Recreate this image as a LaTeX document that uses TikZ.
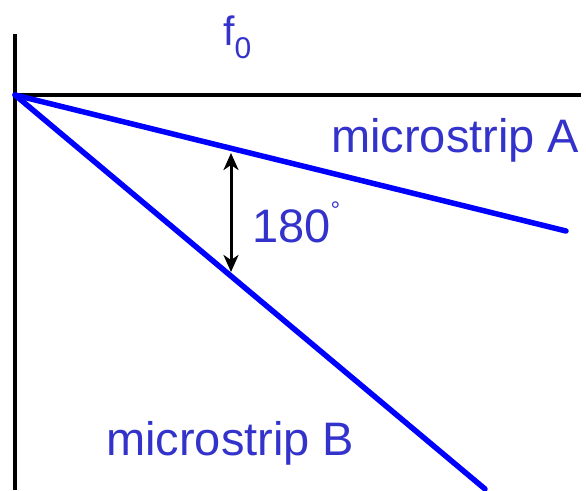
\documentclass[tikz,border=0pt]{standalone}
\usepackage{fontspec}
\setmainfont{Liberation Sans}
\usetikzlibrary{arrows.meta}
\definecolor{txtblue}{RGB}{51,51,204}
\definecolor{lineblue}{RGB}{0,0,255}
\begin{document}
\begin{tikzpicture}[x=1pt,y=-1pt,
  axis/.style={line width=4pt,black},
  strip/.style={line width=5.5pt,lineblue},
  lbl/.style={text=txtblue,inner sep=0pt,anchor=base west,font=\fontsize{47}{56}\selectfont},
  gap/.style={line width=3pt,black,{Stealth[length=17pt,width=15pt,inset=5pt]}-{Stealth[length=17pt,width=15pt,inset=5pt]}}]
\useasboundingbox (0,0) rectangle (586,490);
\coordinate (O) at (15,95);
\coordinate (Vtop) at (15,34);
\coordinate (Vbot) at (15,490);
\coordinate (Hend) at (581,95);
\coordinate (Aend) at (566,231);
\coordinate (Bend) at (485,489);
\coordinate (G1) at (231,153);
\coordinate (G2) at (231,272);
\draw[axis] (Vtop) -- (Vbot);
\draw[axis] (O) -- (Hend);
\draw[strip,line cap=round] (O) -- (Aend);
\draw[strip,line cap=round] (O) -- (Bend);
\draw[gap] (G1) -- (G2);
\node[lbl,font=\fontsize{41}{48}\selectfont] (f0) at (223,45) {f\raisebox{-0.32em}{\fontsize{30}{30}\selectfont 0}};
\node[lbl] (mA) at (331,152) {microstrip A};
\node[lbl] (mB) at (106,455) {microstrip B};
\node[lbl] (deg) at (252,242) {180\raisebox{0.5em}{\fontsize{24}{24}\selectfont °}};
\end{tikzpicture}
\end{document}
